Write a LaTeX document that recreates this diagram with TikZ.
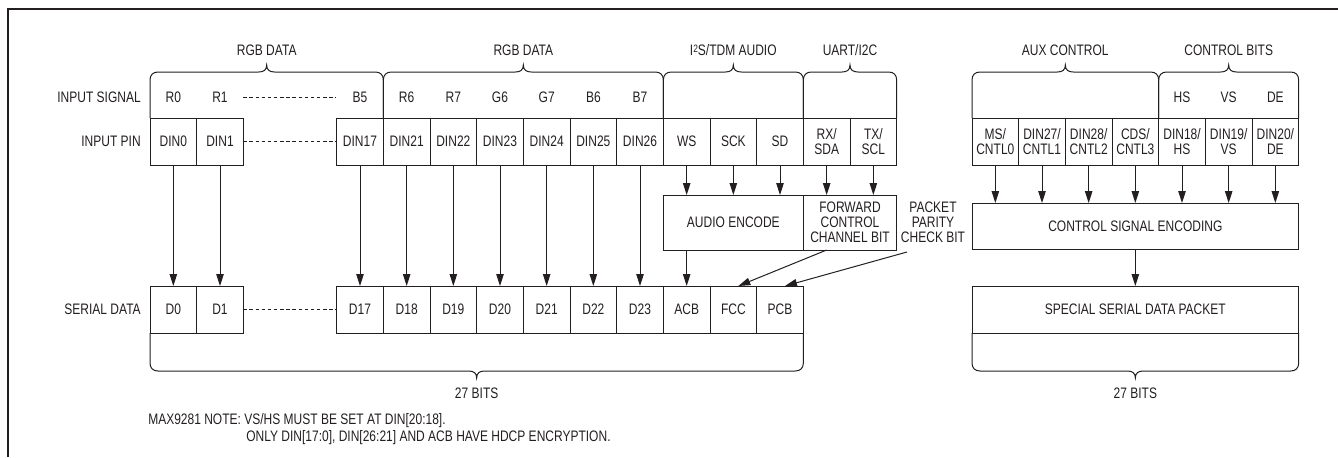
\documentclass[tikz,border=0pt]{standalone}
\usepackage{fontspec}
\setmainfont{Liberation Sans}[FakeStretch=0.79]
\usetikzlibrary{arrows.meta,calc}
\definecolor{ink}{HTML}{231F20}
\newcommand\mytopbrace[2]{%
 \pgfmathsetmacro\xa{#1}\pgfmathsetmacro\xb{#2}\pgfmathsetmacro\xm{(#1+#2)/2}%
 \draw[brace] (\xa,118) -- (\xa,80) .. controls (\xa,75) and ({\xa+3},72) .. ({\xa+8},72) -- ({\xm-8},72) .. controls ({\xm-3},72) and (\xm,70) .. (\xm,65) .. controls (\xm,70) and ({\xm+3},72) .. ({\xm+8},72) -- ({\xb-8},72) .. controls ({\xb-3},72) and (\xb,75) .. (\xb,80) -- (\xb,118);}
\newcommand\mybotbrace[2]{%
 \pgfmathsetmacro\xa{#1}\pgfmathsetmacro\xb{#2}\pgfmathsetmacro\xm{(#1+#2)/2}%
 \draw[brace] (\xa,333) -- (\xa,363) .. controls (\xa,368) and ({\xa+3},371) .. ({\xa+8},371) -- ({\xm-8},371) .. controls ({\xm-3},371) and (\xm,373) .. (\xm,378) .. controls (\xm,373) and ({\xm+3},371) .. ({\xm+8},371) -- ({\xb-8},371) .. controls ({\xb-3},371) and (\xb,368) .. (\xb,363) -- (\xb,333);}
\begin{document}
\begin{tikzpicture}[x=0.75pt,y=-0.75pt,
  every node/.style={font=\fontsize{11.4pt}{11.25pt}\selectfont, text=ink},
  cell/.style={draw=ink, line width=0.75pt, minimum width=35pt, minimum height=35.25pt, inner sep=0pt, outer sep=0pt, align=center},
  lbl/.style={inner sep=0pt},
  rowlbl/.style={inner sep=0pt, anchor=east},
  brace/.style={draw=ink, line width=0.75pt},
  arr/.style={draw=ink, line width=0.75pt, -{Triangle[width=5.6pt,length=9pt]}},
  dashline/.style={draw=ink, line width=0.75pt, dash pattern=on 2.6pt off 2pt},
  box/.style={draw=ink, line width=0.75pt, inner sep=0pt, outer sep=0pt, align=center}]

\useasboundingbox (0,0) rectangle (1338,457);
\draw[ink, line width=1.5pt] (8,457) -- (8,9) -- (1338,9);

% group titles
\node[lbl] (t1) at (266.7,50) {RGB DATA};
\node[lbl] (t2) at (523.3,50) {RGB DATA};
\node[lbl] (t3) at (733.3,50) {I\raisebox{2.2pt}{\fontsize{8pt}{8pt}\selectfont 2}S/TDM AUDIO};
\node[lbl] (t4) at (850,50) {UART/I2C};
\node[lbl] (t5) at (1065.3,50) {AUX CONTROL};
\node[lbl] (t6) at (1228.7,50) {CONTROL BITS};

% braces
\mytopbrace{150}{383.33}
\mytopbrace{383.33}{663.33}
\mytopbrace{663.33}{803.33}
\mytopbrace{803.33}{896.67}
\mytopbrace{972}{1158.67}
\mytopbrace{1158.67}{1298.67}
\mybotbrace{150}{803.33}
\mybotbrace{972}{1298.67}

% row labels
\node[rowlbl] (l1) at (141,97) {INPUT SIGNAL};
\node[rowlbl] (l2) at (141,141.5) {INPUT PIN};
\node[rowlbl] (l3) at (141,309.5) {SERIAL DATA};

% input signal labels
\foreach \n/\c/\t in {sR0/0/R0, sR1/1/R1, sB5/4/B5, sR6/5/R6, sR7/6/R7, sG6/7/G6, sG7/8/G7, sB6/9/B6, sB7/10/B7}
  \node[lbl] (\n) at ({150+(\c+0.5)*46.667},97) {\t};
\foreach \n/\c/\t in {sHS/4/HS, sVS/5/VS, sDE/6/DE}
  \node[lbl] (\n) at ({972+(\c+0.5)*46.667},97) {\t};
\draw[dashline] (243.3,97) -- (336,97);

% input pins
\foreach \n/\c/\t in {din0/0/DIN0, din1/1/DIN1, din17/4/DIN17, din21/5/DIN21, din22/6/DIN22, din23/7/DIN23, din24/8/DIN24, din25/9/DIN25, din26/10/DIN26, ws/11/WS, sck/12/SCK, sd/13/SD}
  \node[cell] (\n) at ({150+(\c+0.5)*46.667},141.5) {\t};
\node[cell] (rx) at ({150+14.5*46.667},141.5) {RX/\\SDA};
\node[cell] (tx) at ({150+15.5*46.667},141.5) {TX/\\SCL};
\node[cell] (ms) at ({972+0.5*46.667},141.5) {MS/\\CNTL0};
\node[cell] (c1) at ({972+1.5*46.667},141.5) {DIN27/\\CNTL1};
\node[cell] (c2) at ({972+2.5*46.667},141.5) {DIN28/\\CNTL2};
\node[cell] (c3) at ({972+3.5*46.667},141.5) {CDS/\\CNTL3};
\node[cell] (hs) at ({972+4.5*46.667},141.5) {DIN18/\\HS};
\node[cell] (vs) at ({972+5.5*46.667},141.5) {DIN19/\\VS};
\node[cell] (de) at ({972+6.5*46.667},141.5) {DIN20/\\DE};
\draw[dashline] (din1.east) -- (din17.west);

% serial data
\foreach \n/\c/\t in {d0/0/D0, d1/1/D1, d17/4/D17, d18/5/D18, d19/6/D19, d20/7/D20, d21/8/D21, d22/9/D22, d23/10/D23, acb/11/ACB, fcc/12/FCC, pcb/13/PCB}
  \node[cell] (\n) at ({150+(\c+0.5)*46.667},309.5) {\t};
\draw[dashline] (d1.east) -- (d17.west);

% middle boxes
\node[box, minimum width=105pt, minimum height=41.25pt] (audio) at (733.33,222.5) {AUDIO ENCODE};
\node[box, minimum width=70pt, minimum height=41.25pt] (fwd) at (850,222.5) {FORWARD\\CONTROL\\CHANNEL BIT};
\node[lbl, align=center] (pp) at (933,222) {PACKET\\PARITY\\CHECK BIT};
\coordinate (ppend) at (907,252);
\node[box, minimum width=245pt, minimum height=34.5pt] (cse) at (1135.33,226) {CONTROL SIGNAL ENCODING};
\node[box, minimum width=245pt, minimum height=35.25pt] (sp) at (1135.33,309.5) {SPECIAL SERIAL DATA PACKET};

% arrows
\foreach \a/\b in {din0/d0, din1/d1, din17/d17, din21/d18, din22/d19, din23/d20, din24/d21, din25/d22, din26/d23}
  \draw[arr] (\a) -- (\b);
\foreach \a in {ws, sck, sd}
  \draw[arr] (\a) -- (\a |- audio.north);
\foreach \a in {rx, tx}
  \draw[arr] (\a) -- (\a |- fwd.north);
\foreach \a in {ms, c1, c2, c3, hs, vs, de}
  \draw[arr] (\a) -- (\a |- cse.north);
\draw[arr] (audio.south -| acb) -- (acb);
\draw[arr] (fwd.south -| rx) -- ([xshift=3.75pt]fcc.north);
\draw[arr] (ppend) -- ([xshift=3.75pt]pcb.north);
\draw[arr] (cse) -- (sp);

% bottom labels
\node[lbl] (b1) at (476.67,393) {27 BITS};
\node[lbl] (b2) at (1135.33,393) {27 BITS};
\node[lbl, anchor=base west] (n1) at (148,424.5) {MAX9281 NOTE: VS/HS MUST BE SET AT DIN[20:18].};
\node[lbl, anchor=base west] (n2) at (246,441.5) {ONLY DIN[17:0], DIN[26:21] AND ACB HAVE HDCP ENCRYPTION.};
\end{tikzpicture}
\end{document}
